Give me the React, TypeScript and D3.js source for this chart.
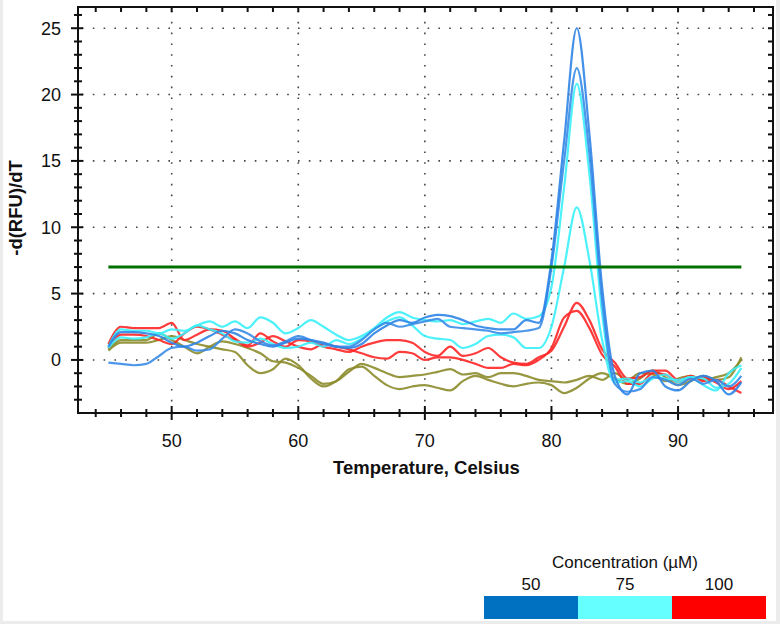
import React, { useEffect, useRef } from 'react';
import * as d3 from 'd3';

// Melt curve derivative, sampled every 1 °C from 45 to 95
const temps = d3.range(45, 96);

const blueA = [
  1.0, 2.1, 2.1, 2.0, 1.8, 1.3, 1.0, 1.3, 1.8, 2.2,
  2.0, 1.5, 1.2, 1.0, 1.3, 1.6, 1.5, 1.3, 1.0, 0.9,
  1.2, 2.0, 2.6, 3.0, 2.8, 3.2, 3.4, 3.3, 3.0, 2.6,
  2.4, 2.3, 2.3, 3.0, 2.8, 7.5, 16.5, 25.0, 17.0, 5.5,
  -1.2, -2.6, -1.0, -0.8, -2.0, -2.3, -1.6, -1.2, -1.6, -2.6, -1.7,
];
const blueB = [
  -0.2, -0.3, -0.4, -0.3, 0.3, 0.9, 1.0, 0.7, 0.8, 1.6,
  2.3, 2.0, 1.4, 1.1, 1.4, 1.8, 1.5, 1.2, 1.0, 1.0,
  1.5, 2.3, 2.8, 2.5, 2.7, 2.9, 3.1, 2.5, 2.4, 2.3,
  2.2, 2.0, 2.1, 2.2, 2.4, 7.0, 15.0, 22.0, 15.5, 4.5,
  -1.8, -2.4, -2.2, -1.3, -1.5, -1.9, -1.4, -1.8, -1.5, -2.0, -1.2,
];
const cyanA = [
  1.0, 2.3, 2.2, 2.2, 2.0, 2.3, 2.2, 2.6, 2.9, 2.5,
  2.9, 2.4, 3.2, 2.8, 2.0, 2.4, 3.0, 2.5, 1.9, 1.5,
  1.8, 2.4, 3.2, 3.6, 3.2, 3.0, 2.9, 3.0, 2.7, 2.9,
  3.1, 2.8, 3.5, 3.1, 3.3, 5.5, 13.0, 20.8, 14.0, 3.5,
  -1.5, -1.4, -1.7, -1.3, -1.4, -1.5, -1.3, -1.9, -2.3, -1.0, -0.4,
];
const cyanB = [
  0.9, 1.7, 1.6, 1.7, 2.0, 1.6, 2.0, 2.6, 2.3, 2.0,
  1.4, 1.3, 1.6, 1.2, 0.9, 1.0, 1.3, 1.0, 1.5, 1.2,
  1.6, 2.3, 2.9, 3.2, 2.6, 1.8, 1.6, 1.5, 0.9, 1.2,
  1.8, 1.9, 1.7, 0.9, 0.9, 2.5, 7.0, 11.5, 7.5, 1.5,
  -1.7, -1.6, -2.0, -1.4, -1.1, -1.7, -1.3, -1.4, -2.1, -1.8, -0.6,
];
const redA = [
  1.2, 2.5, 2.4, 2.4, 2.4, 2.8, 1.5, 1.9, 2.3, 2.2,
  1.6, 1.1, 2.0, 1.4, 1.0, 1.5, 1.4, 1.0, 0.8, 0.6,
  1.0, 1.3, 1.5, 1.5, 1.3, 0.6, 0.3, 1.0, 0.3, 0.5,
  0.9, 0.2, -0.2, -0.3, 0.2, 0.7, 2.5, 4.3, 3.0, 0.8,
  -0.2, -1.4, -1.3, -0.8, -0.8, -1.5, -1.2, -1.6, -1.5, -2.0, -2.5,
];
const redB = [
  0.9, 1.9, 1.9, 1.8, 1.5, 1.2, 2.0, 2.5, 2.3, 1.9,
  1.5, 1.0, 1.3, 1.8, 1.4, 1.0, 0.8, 1.2, 1.0, 0.8,
  0.5, 0.2, 0.1, 0.6, 0.5, 0.0, 0.2, 0.2, 0.0, -0.3,
  -0.6, -0.6, -0.3, -0.4, 0.0, 0.9, 3.2, 3.7, 2.4, 0.4,
  -0.5, -1.8, -1.8, -1.0, -1.1, -1.7, -1.4, -1.3, -1.7, -2.2, -1.6,
];
const oliveA = [
  0.8, 1.5, 1.5, 1.5, 2.0, 1.5, 1.0, 0.5, 1.0, 1.4,
  1.2, 0.9, 0.5, -0.1, -0.2, -0.6, -1.2, -1.8, -1.6, -0.9,
  -0.3, -0.6, -1.0, -1.3, -1.2, -1.1, -0.9, -0.7, -1.1, -1.0,
  -1.3, -1.0, -1.0, -1.2, -1.5, -1.6, -1.7, -1.5, -1.2, -1.5,
  -1.0, -1.5, -1.0, -1.1, -1.6, -1.4, -1.2, -1.5, -1.3, -1.0, 0.0,
];
const oliveB = [
  0.7, 1.3, 1.3, 1.3, 1.5, 1.8, 1.5, 1.2, 1.0, 0.8,
  0.6, -0.4, -1.0, -0.7, 0.1, -0.4, -1.4, -2.0, -1.6, -0.7,
  -0.5, -1.2, -1.9, -2.2, -2.0, -1.9, -2.1, -2.3, -1.6, -1.2,
  -1.5, -1.8, -2.0, -1.8, -1.7, -1.9, -2.5, -2.1, -1.4, -1.0,
  -1.4, -1.8, -1.4, -0.8, -1.3, -1.9, -1.6, -1.2, -1.5, -1.3, 0.2,
];

const seriesList = [
  { values: oliveA, color: '#8c8c2c' },
  { values: oliveB, color: '#8c8c2c' },
  { values: redA, color: '#ff2626' },
  { values: redB, color: '#ff2626' },
  { values: cyanA, color: '#38f0fa' },
  { values: cyanB, color: '#38f0fa' },
  { values: blueB, color: '#3a8ce8' },
  { values: blueA, color: '#2f84e6' },
];

const threshold = 7.0;
const thresholdRange = [45, 95];

const legendLabels = ['50', '75', '100'];
const legendColors = ['#0070c0', '#66ffff', '#ff0000'];

const xMajor = [50, 60, 70, 80, 90];
const yMajor = [0, 5, 10, 15, 20, 25];

const W = 780;
const H = 624;
const margin = { left: 78, right: 7, top: 7, bottom: 211 };

const App: React.FC = () => {
  const svgRef = useRef<SVGSVGElement>(null);

  useEffect(() => {
    if (!svgRef.current) return;
    const svg = d3.select(svgRef.current);
    svg.selectAll('*').remove();

    const x = d3.scaleLinear().domain([42.6, 97.5]).range([margin.left, W - margin.right]);
    const y = d3.scaleLinear().domain([-4, 26.6]).range([H - margin.bottom, margin.top]);
    const [x0, x1] = x.range();
    const [y0, y1] = y.range(); // y0 bottom, y1 top

    svg.append('rect').attr('width', W).attr('height', H).attr('fill', '#fff');
    // screenshot edge
    svg.append('rect').attr('x', W - 4).attr('y', 0).attr('width', 4).attr('height', H).attr('fill', '#ececec');
    svg.append('rect').attr('x', 0).attr('y', 0).attr('width', 3).attr('height', H).attr('fill', '#ececec');
    svg.append('rect').attr('x', 0).attr('y', H - 3).attr('width', W).attr('height', 3).attr('fill', '#ececec');

    // dotted grid
    const grid = svg.append('g').attr('stroke', '#444').attr('stroke-width', 1.6)
      .attr('stroke-dasharray', '1.6,9.2').attr('stroke-linecap', 'butt');
    xMajor.forEach(t => {
      grid.append('line').attr('x1', x(t)).attr('x2', x(t)).attr('y1', y1 + 4).attr('y2', y0);
    });
    yMajor.forEach(v => {
      grid.append('line').attr('x1', x0 + 4).attr('x2', x1).attr('y1', y(v)).attr('y2', y(v));
    });

    // curves
    const line = d3.line<number>()
      .x((_d, i) => x(temps[i]))
      .y(d => y(d))
      .curve(d3.curveMonotoneX);

    const plot = svg.append('g');
    seriesList.forEach(s => {
      plot.append('path')
        .attr('d', line(s.values) || '')
        .attr('fill', 'none')
        .attr('stroke', s.color)
        .attr('stroke-width', 2.2)
        .attr('stroke-opacity', 0.9)
        .attr('stroke-linejoin', 'round');
    });

    // threshold line
    svg.append('line')
      .attr('x1', x(thresholdRange[0])).attr('x2', x(thresholdRange[1]))
      .attr('y1', y(threshold)).attr('y2', y(threshold))
      .attr('stroke', '#007000').attr('stroke-width', 3);

    // frame
    svg.append('rect')
      .attr('x', x0).attr('y', y1).attr('width', x1 - x0).attr('height', y0 - y1)
      .attr('fill', 'none').attr('stroke', '#111').attr('stroke-width', 2);

    const ticks = svg.append('g').attr('stroke', '#111').attr('stroke-width', 2);
    // x ticks, every 2 °C
    d3.range(44, 97, 2).forEach(t => {
      const major = t % 10 === 0;
      ticks.append('line').attr('x1', x(t)).attr('x2', x(t))
        .attr('y1', y0 - (major ? 7 : 4)).attr('y2', y0 + (major ? 7 : 4));
      ticks.append('line').attr('x1', x(t)).attr('x2', x(t))
        .attr('y1', y1).attr('y2', y1 + 5);
    });
    // y ticks, every 1 unit
    d3.range(-3, 27, 1).forEach(v => {
      const major = v % 5 === 0;
      ticks.append('line').attr('y1', y(v)).attr('y2', y(v))
        .attr('x1', x0 - (major ? 7 : 4)).attr('x2', x0 + (major ? 5 : 4));
      ticks.append('line').attr('y1', y(v)).attr('y2', y(v))
        .attr('x1', x1 - 5).attr('x2', x1);
    });

    const font = '"Liberation Sans", Arial, sans-serif';
    svg.append('g').selectAll('text').data(xMajor).enter().append('text')
      .attr('x', d => x(d)).attr('y', y0 + 34)
      .attr('text-anchor', 'middle').attr('font-family', font).attr('font-size', 18)
      .attr('fill', '#111').text(d => d);
    svg.append('g').selectAll('text').data(yMajor).enter().append('text')
      .attr('x', x0 - 17).attr('y', d => y(d) + 6.5)
      .attr('text-anchor', 'end').attr('font-family', font).attr('font-size', 18)
      .attr('fill', '#111').text(d => d);

    svg.append('text')
      .attr('x', (x0 + x1) / 2 + 1).attr('y', y0 + 61)
      .attr('text-anchor', 'middle').attr('font-family', font).attr('font-size', 18.5)
      .attr('font-weight', 'bold').attr('fill', '#111').text('Temperature, Celsius');
    svg.append('text')
      .attr('transform', `translate(22,${(y0 + y1) / 2 - 2}) rotate(-90)`)
      .attr('text-anchor', 'middle').attr('font-family', font).attr('font-size', 18.5)
      .attr('font-weight', 'bold').attr('fill', '#111').text('-d(RFU)/dT');

    // legend
    const lx = 484;
    const lw = 94;
    const legend = svg.append('g');
    legend.append('text')
      .attr('x', lx + (lw * 3) / 2).attr('y', 568)
      .attr('text-anchor', 'middle').attr('font-family', font).attr('font-size', 17)
      .attr('fill', '#111').text('Concentration (µM)');
    legendColors.forEach((c, i) => {
      legend.append('rect').attr('x', lx + i * lw).attr('y', 596)
        .attr('width', lw).attr('height', 23).attr('fill', c);
      legend.append('text')
        .attr('x', lx + i * lw + lw / 2).attr('y', 590)
        .attr('text-anchor', 'middle').attr('font-family', font).attr('font-size', 17)
        .attr('fill', '#111').text(legendLabels[i]);
    });
  }, []);

  return (
    <svg
      ref={svgRef}
      width={W}
      height={H}
      style={{ position: 'absolute', left: 0, top: 0 }}
    />
  );
};

export default App;
